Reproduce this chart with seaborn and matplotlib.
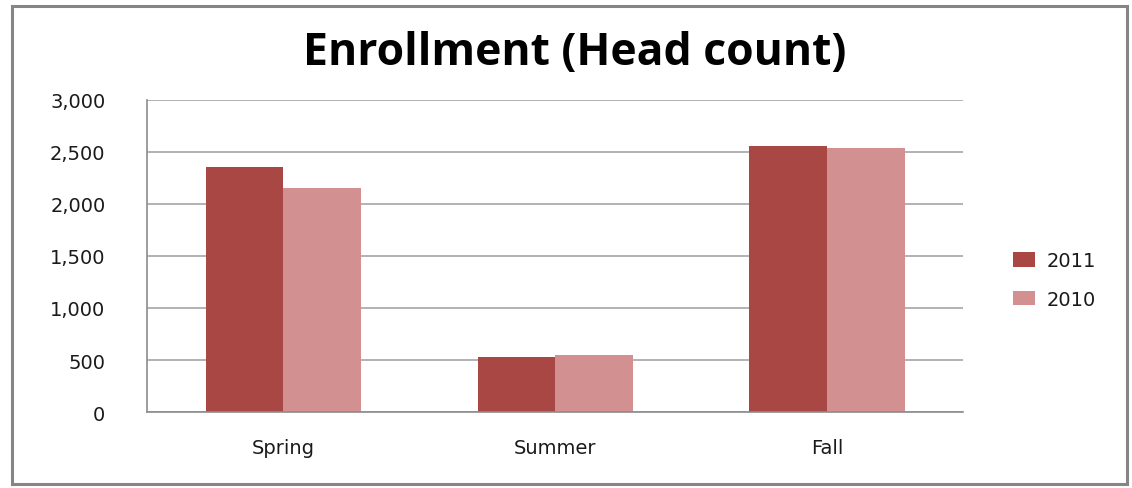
import pandas as pd
import seaborn as sns
import matplotlib.pyplot as plt
from matplotlib.patches import Rectangle

# data
terms = ['Spring', 'Summer', 'Fall']
years = ['2011', '2010']
enroll_2011 = [2352, 529, 2561]
enroll_2010 = [2154, 548, 2538]
yticks = [0, 500, 1000, 1500, 2000, 2500, 3000]

df = pd.DataFrame({
    'term': terms * 2,
    'year': [years[0]] * 3 + [years[1]] * 3,
    'count': enroll_2011 + enroll_2010,
})

sns.set_style('white')
plt.rcParams['font.family'] = ['DejaVu Sans']

fig = plt.figure(figsize=(11.32, 4.89), dpi=100)
ax = fig.add_axes([0.1299, 0.1554, 0.7208, 0.6381])

#bar plot grouped by year
sns.barplot(data=df, x='term', y='count', hue='year', hue_order=years,
            palette=['#A94745', '#D29190'], width=0.57, gap=0,
            saturation=1, linewidth=0, ax=ax, legend=True)

ax.set_ylim(0, 3000)
ax.set_yticks(yticks)
ax.set_yticklabels([f'{v:,}' for v in yticks])
ax.yaxis.grid(True, color='#a6a6a6', linewidth=1.2)
ax.set_axisbelow(True)
ax.set_xlabel('')
ax.set_ylabel('')
ax.tick_params(axis='y', length=0, pad=30, labelsize=14, colors='#1a1a1a')
ax.tick_params(axis='x', length=0, pad=19, labelsize=14, colors='#1a1a1a')
for s in ['top', 'right']:
    ax.spines[s].set_visible(False)
for s in ['left', 'bottom']:
    ax.spines[s].set_color('#8c8c8c')
    ax.spines[s].set_linewidth(1.2)

leg = ax.legend(loc='center left', bbox_to_anchor=(1.04, 0.423), frameon=False,
                fontsize=14, handlelength=1.1, handleheight=0.8,
                labelspacing=1.0, handletextpad=0.6)
for t in leg.get_texts():
    t.set_color('#1a1a1a')

fig.text(0.5077, 0.89, 'Enrollment (Head count)', ha='center', va='center',
         fontsize=32, fontweight='bold', family='Open Sans', color='black')

# outer chart border
fig.patches.append(Rectangle((12 / 1132, 4 / 489), 1115 / 1132, 478 / 489,
                             transform=fig.transFigure, fill=False,
                             edgecolor='#858585', linewidth=2.2))

fig.savefig('out.png', dpi=100)
